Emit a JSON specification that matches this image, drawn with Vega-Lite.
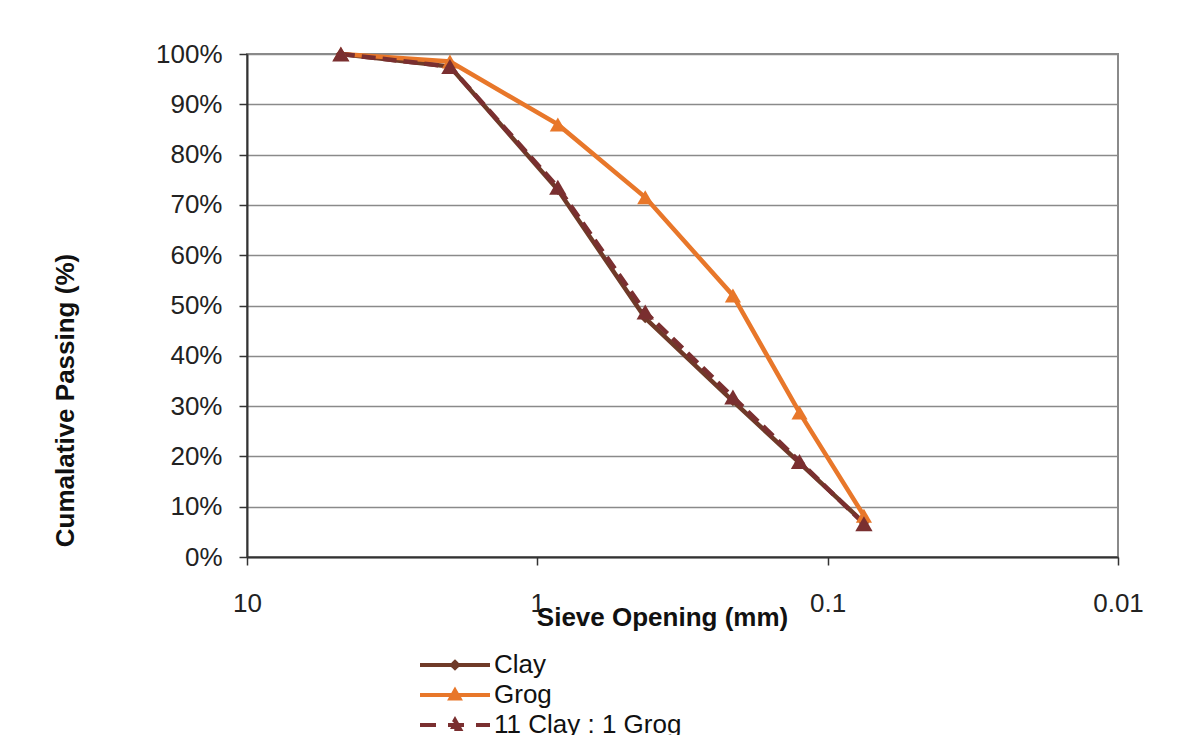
{
  "$schema": "https://vega.github.io/schema/vega-lite/v6.json",
  "width": 871,
  "height": 503,
  "autosize": {"type": "none"},
  "padding": {"left": 247, "top": 54, "right": 84, "bottom": 178},
  "background": "white",
  "config": {
    "font": "Liberation Sans",
    "view": {"stroke": "#8a8a8a", "strokeWidth": 2},
    "axis": {"labelColor": "#222", "titleColor": "#111", "labelFont": "Liberation Sans", "titleFont": "Liberation Sans"}
  },
  "data": {
    "values": [
      {"series": "Clay", "size": 4.75, "passing": 1.0},
      {"series": "Clay", "size": 2.0, "passing": 0.975},
      {"series": "Clay", "size": 0.85, "passing": 0.73},
      {"series": "Clay", "size": 0.425, "passing": 0.475},
      {"series": "Clay", "size": 0.212, "passing": 0.31},
      {"series": "Clay", "size": 0.125, "passing": 0.187},
      {"series": "Clay", "size": 0.075, "passing": 0.068},
      {"series": "Grog", "size": 4.75, "passing": 1.0},
      {"series": "Grog", "size": 2.0, "passing": 0.985},
      {"series": "Grog", "size": 0.85, "passing": 0.86},
      {"series": "Grog", "size": 0.425, "passing": 0.715},
      {"series": "Grog", "size": 0.212, "passing": 0.52},
      {"series": "Grog", "size": 0.125, "passing": 0.287},
      {"series": "Grog", "size": 0.075, "passing": 0.082},
      {"series": "11 Clay : 1 Grog", "size": 4.75, "passing": 1.0},
      {"series": "11 Clay : 1 Grog", "size": 2.0, "passing": 0.975},
      {"series": "11 Clay : 1 Grog", "size": 0.85, "passing": 0.735},
      {"series": "11 Clay : 1 Grog", "size": 0.425, "passing": 0.487},
      {"series": "11 Clay : 1 Grog", "size": 0.212, "passing": 0.318},
      {"series": "11 Clay : 1 Grog", "size": 0.125, "passing": 0.19},
      {"series": "11 Clay : 1 Grog", "size": 0.075, "passing": 0.066}
    ]
  },
  "encoding": {
    "x": {
      "field": "size", "type": "quantitative",
      "scale": {"type": "log", "domain": [0.01, 10], "reverse": true, "nice": false},
      "axis": {
        "values": [10, 1, 0.1, 0.01], "format": "~g", "grid": false,
        "domainColor": "#333", "domainWidth": 2, "tickColor": "#333", "tickWidth": 1.5, "tickSize": 8,
        "labelFontSize": 26, "labelPadding": 25, "labelFlush": false,
        "title": "Sieve Opening (mm)", "titleFontSize": 26, "titleFontWeight": "bold",
        "titleX": 415, "titleY": 60, "titleBaseline": "middle", "titleAlign": "center"
      }
    },
    "y": {
      "field": "passing", "type": "quantitative",
      "scale": {"domain": [0, 1], "nice": false},
      "axis": {
        "values": [0, 0.1, 0.2, 0.3, 0.4, 0.5, 0.6, 0.7, 0.8, 0.9, 1.0], "format": ".0%",
        "grid": true, "gridColor": "#8a8a8a", "gridWidth": 1.5,
        "domainColor": "#333", "domainWidth": 2, "tickColor": "#333", "tickWidth": 1.5, "tickSize": 8,
        "labelFontSize": 26, "labelPadding": 17, "labelFlush": false,
        "title": "Cumalative Passing (%)", "titleFontSize": 26, "titleFontWeight": "bold",
        "titleAngle": 270, "titleX": -182, "titleY": 346, "titleBaseline": "middle", "titleAlign": "center"
      }
    }
  },
  "layer": [
    {
      "transform": [{"filter": "datum.series === 'Clay'"}],
      "mark": {"type": "line", "strokeWidth": 4.5, "color": "#6f3a28"},
      "encoding": {"order": {"field": "size", "sort": "descending"}}
    },
    {
      "transform": [{"filter": "datum.series === 'Grog'"}],
      "mark": {"type": "line", "strokeWidth": 4.5, "color": "#e8772a"},
      "encoding": {"order": {"field": "size", "sort": "descending"}}
    },
    {
      "transform": [{"filter": "datum.series === '11 Clay : 1 Grog'"}],
      "mark": {"type": "line", "strokeWidth": 4.5, "color": "#7a2f30", "strokeDash": [14, 7]},
      "encoding": {"order": {"field": "size", "sort": "descending"}}
    },
    {
      "transform": [{"filter": "datum.series === 'Clay'"}],
      "mark": {"type": "point", "filled": true, "opacity": 1, "shape": "diamond", "size": 110, "color": "#6f3a28"},
      "encoding": {}
    },
    {
      "transform": [{"filter": "datum.series === 'Grog'"}],
      "mark": {"type": "point", "filled": true, "opacity": 1, "shape": "triangle-up", "size": 260, "color": "#e8772a"},
      "encoding": {}
    },
    {
      "transform": [{"filter": "datum.series === '11 Clay : 1 Grog'"}],
      "mark": {"type": "point", "filled": true, "opacity": 1, "shape": "triangle-up", "size": 300, "color": "#7a2f30"},
      "encoding": {}
    },
    {
      "transform": [{"filter": "false"}],
      "mark": {"type": "point", "filled": true, "opacity": 1, "size": 400, "strokeWidth": 4},
      "encoding": {
        "fill": {
          "field": "series", "type": "nominal",
          "scale": {"domain": ["Clay", "Grog", "11 Clay : 1 Grog"], "range": ["#6f3a28", "#e8772a", "#7a2f30"]},
          "legend": {
            "orient": "none", "legendX": 173, "legendY": 598, "title": null,
            "direction": "vertical", "padding": 0,
            "symbolSize": 400, "symbolOffset": 22, "labelOffset": 26, "rowPadding": 4,
            "labelFontSize": 26, "labelColor": "#111", "labelFont": "Liberation Sans", "labelLimit": 0,
            "symbolStrokeWidth": 4, "symbolOpacity": 1
          }
        },
        "stroke": {
          "field": "series", "type": "nominal",
          "scale": {"domain": ["Clay", "Grog", "11 Clay : 1 Grog"], "range": ["#6f3a28", "#e8772a", "#7a2f30"]}
        },
        "shape": {
          "field": "series", "type": "nominal",
          "scale": {"domain": ["Clay", "Grog", "11 Clay : 1 Grog"], "range": ["M-3.5,0H3.5M0,-0.3L0.3,0L0,0.3L-0.3,0Z", "M-3.5,0H3.5M0,-0.45L0.45,0.35L-0.45,0.35Z", "M-3.5,0H3.5M0,-0.5L0.5,0.4L-0.5,0.4Z"]}
        },
        "strokeDash": {
          "field": "series", "type": "nominal",
          "scale": {"domain": ["Clay", "Grog", "11 Clay : 1 Grog"], "range": [[1, 0], [1, 0], [16, 12]]}
        }
      }
    }
  ]
}
